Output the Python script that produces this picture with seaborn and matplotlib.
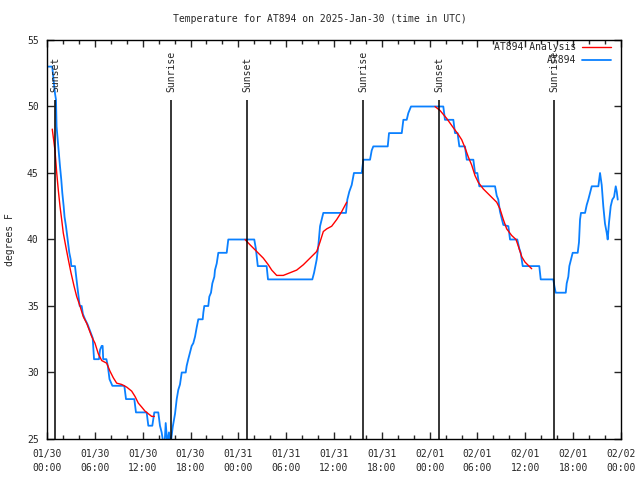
import pandas as pd
import matplotlib
matplotlib.use("Agg")
import matplotlib.pyplot as plt
import seaborn as sns

# observed temperatures (hours after 01/30 00:00 UTC, degrees F)
obs_hours = [0.16, 0.66, 0.82, 1.0, 1.13, 1.2, 1.34, 1.47, 1.63, 1.79, 1.92, 2.09, 2.2, 2.38,
             2.55, 2.67, 2.8, 2.97, 3.05, 3.51, 3.64, 3.8, 4.05, 4.1, 4.35, 4.5, 4.77, 5.1,
             5.48, 5.73, 5.9, 6.52, 6.65, 6.86, 6.98, 7.05, 7.45, 7.63, 7.84, 8.2, 9.7, 9.91,
             10.95, 11.16, 12.5, 12.71, 13.21, 13.46, 13.96, 14.17, 14.38, 14.59, 14.75, 14.89,
             15.1, 15.3, 15.5, 15.65, 15.77, 16.06, 16.27, 16.47, 16.68, 16.9, 17.4, 17.52,
             17.72, 17.94, 18.15, 18.35, 18.57, 18.78, 18.98, 19.53, 19.61, 19.73, 20.23,
             20.36, 20.57, 20.74, 20.99, 21.07, 21.29, 21.49, 22.54, 22.74, 26.0, 26.2, 26.44,
             27.55, 27.72, 33.28, 33.5, 33.83, 34.03, 34.25, 34.46, 34.66, 37.5, 37.67, 37.92,
             38.22, 38.5, 39.48, 39.68, 40.52, 40.73, 40.93, 42.74, 42.9, 44.5, 44.7, 45.12,
             45.32, 45.66, 49.71, 49.92, 50.97, 51.18, 51.5, 51.72, 52.43, 52.65, 53.48, 53.69,
             53.98, 54.23, 56.2, 56.41, 56.61, 56.82, 57.24, 57.87, 58.08, 58.99, 59.25, 59.42,
             59.67, 61.75, 61.93, 63.51, 63.64, 63.81, 65.07, 65.19, 65.39, 65.52, 65.73,
             65.94, 66.57, 66.73, 66.86, 66.98, 67.49, 67.7, 67.9, 68.11, 68.33, 69.16, 69.37,
             69.58, 69.78, 69.99, 70.21, 70.33, 70.5, 70.71, 70.91, 71.13, 71.34, 71.47, 71.59]
obs_temps = [53, 53, 52, 51, 50.5, 48.5, 47.5, 46.5, 45.5, 44.5, 43.5, 42.5, 41.7, 41,
             40.2, 39.7, 39, 38.5, 38, 38, 37.3, 36.5, 35.3, 35, 35, 34.4, 34, 33.6,
             33, 32.6, 31, 31, 31.7, 32, 32, 31, 31, 30.5, 29.5, 29, 29, 28,
             28, 27, 27, 26, 26, 27, 27, 26, 25.5, 24.7, 24.6, 26.2,
             24.6, 25.5, 24.6, 25.3, 25.9, 26.9, 28, 28.7, 29.1, 30, 30, 30.5,
             31, 31.5, 32, 32.2, 32.7, 33.4, 34, 34, 34.5, 35, 35,
             35.7, 36, 36.7, 37.2, 37.7, 38.2, 39, 39, 40, 40, 39.3, 38,
             38, 37, 37, 37.5, 38.5, 39.5, 41, 41.5, 42, 42, 43, 43.6,
             44.1, 45, 45, 46, 46, 46.7, 47, 47, 48, 48, 49, 49,
             49.5, 50, 50, 49, 49, 48, 48, 47, 47, 46, 46, 45,
             45, 44, 44, 43.3, 43, 42.1, 41.1, 41, 40, 40, 39.3, 39,
             38, 38, 37, 37, 36.5, 36, 36, 36.7, 37.2, 38, 38.5,
             39, 39, 39.8, 41.5, 42, 42, 42.6, 43, 43.5, 44, 44, 45,
             44.1, 42.5, 41.2, 40.5, 40, 41.3, 42.5, 43, 43.2, 44, 43.6, 43]

# analysis curve, three separate pieces
ana1_hours = [0.66, 1.0, 1.22, 1.42, 1.63, 1.84, 2.04, 2.35, 2.67, 3.01, 3.39, 3.73, 4.14,
              4.55, 4.98, 5.61, 6.02, 6.44, 6.86, 7.49, 7.9, 8.32, 8.74, 9.37, 10.0, 10.62,
              11.04, 11.45, 11.88, 12.29, 12.71, 13.13, 13.46]
ana1_temps = [48.3, 46.7, 45, 43.7, 42.5, 41.5, 40.5, 39.5, 38.5, 37.5, 36.5, 35.7, 35,
              34.2, 33.7, 32.7, 32.2, 31.4, 30.9, 30.7, 30.1, 29.6, 29.2, 29.1, 28.9, 28.6,
              28.2, 27.7, 27.4, 27.1, 26.9, 26.7, 26.7]
ana2_hours = [24.84, 25.47, 26.3, 27.13, 27.76, 28.19, 28.81, 29.64, 30.48, 31.32, 32.15,
              32.99, 33.83, 34.24, 34.66, 35.09, 35.71, 36.34, 36.97, 37.59]
ana2_temps = [40, 39.6, 39.1, 38.6, 38.1, 37.7, 37.3, 37.3, 37.5, 37.7, 38.1,
              38.6, 39.1, 39.8, 40.6, 40.8, 41, 41.5, 42.1, 42.8]
ana3_hours = [48.67, 49.3, 50.14, 50.97, 51.59, 52.02, 52.43, 52.85, 53.27, 53.69, 54.1,
              54.73, 55.57, 56.41, 56.82, 57.24, 57.66, 58.29, 58.83, 59.12, 59.55, 59.96, 60.8]
ana3_temps = [50, 49.7, 49.1, 48.4, 47.9, 47.5, 46.9, 46.2, 45.6, 44.8, 44.3,
              43.8, 43.3, 42.8, 42.3, 41.5, 40.8, 40.3, 40, 39.5, 38.7, 38.3, 37.8]

sun_hours = [1.0, 15.55, 25.13, 39.68, 49.21, 63.64]
sun_names = ["Sunset", "Sunrise", "Sunset", "Sunrise", "Sunset", "Sunrise"]

tick_hours = list(range(0, 73, 6))
tick_labels = ["01/30\n00:00", "01/30\n06:00", "01/30\n12:00", "01/30\n18:00",
               "01/31\n00:00", "01/31\n06:00", "01/31\n12:00", "01/31\n18:00",
               "02/01\n00:00", "02/01\n06:00", "02/01\n12:00", "02/01\n18:00",
               "02/02\n00:00"]

sns.set_style("ticks")
plt.rcParams["font.family"] = ["DejaVu Sans Mono"]
plt.rcParams["font.size"] = 7

fig = plt.figure(figsize=(6.4, 4.8), dpi=100)
ax = fig.add_axes([47 / 640, 41 / 480, 574 / 640, 399 / 480])

obs = pd.DataFrame({"hour": obs_hours, "temp": obs_temps})
sns.lineplot(data=obs, x="hour", y="temp", color="#0a80ff", lw=1.3, sort=False,
             label="AT894", ax=ax)
for i, (h, t) in enumerate([(ana1_hours, ana1_temps), (ana2_hours, ana2_temps),
                            (ana3_hours, ana3_temps)]):
    seg = pd.DataFrame({"hour": h, "temp": t})
    sns.lineplot(data=seg, x="hour", y="temp", color="#ff0000", lw=1.0, sort=False,
                 label="AT894 Analysis" if i == 0 else None, ax=ax)

# sunrise / sunset markers
ax.vlines(sun_hours, 25, 50.5, color="black", lw=1.1)
for h, name in zip(sun_hours, sun_names):
    ax.text(h, 51.1, name, rotation=90, ha="center", va="bottom", fontsize=7)

ax.set_xlim(0, 72)
ax.set_ylim(25, 55)
ax.set_xticks(tick_hours)
ax.set_xticklabels(tick_labels, linespacing=1.5)
ax.set_xticks(range(0, 73, 2), minor=True)
ax.set_yticks(range(25, 56, 5))
ax.tick_params(direction="in", top=True, right=True, length=5, width=1, labelsize=7)
ax.tick_params(axis="x", which="minor", direction="in", top=True, length=3, width=1)
ax.tick_params(axis="x", which="major", pad=7)
ax.tick_params(axis="y", pad=6)
ax.set_xlabel("")
ax.set_ylabel("")
for s in ax.spines.values():
    s.set_linewidth(1)
    s.set_color("black")

handles, labels = ax.get_legend_handles_labels()
order = [labels.index("AT894 Analysis"), labels.index("AT894")]
ax.legend([handles[i] for i in order], [labels[i] for i in order],
          loc="upper right", bbox_to_anchor=(611 / 640, 1 - 42 / 480),
          bbox_transform=fig.transFigure, frameon=False, markerfirst=False,
          handlelength=3.0, handletextpad=0.6, labelspacing=0.35,
          borderpad=0, borderaxespad=0, fontsize=7)

fig.text(320 / 640, 1 - 19 / 480, "Temperature for AT894 on 2025-Jan-30 (time in UTC)",
         ha="center", va="center", fontsize=7)
fig.text(10 / 640, 1 - 240 / 480, "degrees F", rotation=90, ha="center", va="center",
         fontsize=7)

fig.savefig("out.png", dpi=100)
